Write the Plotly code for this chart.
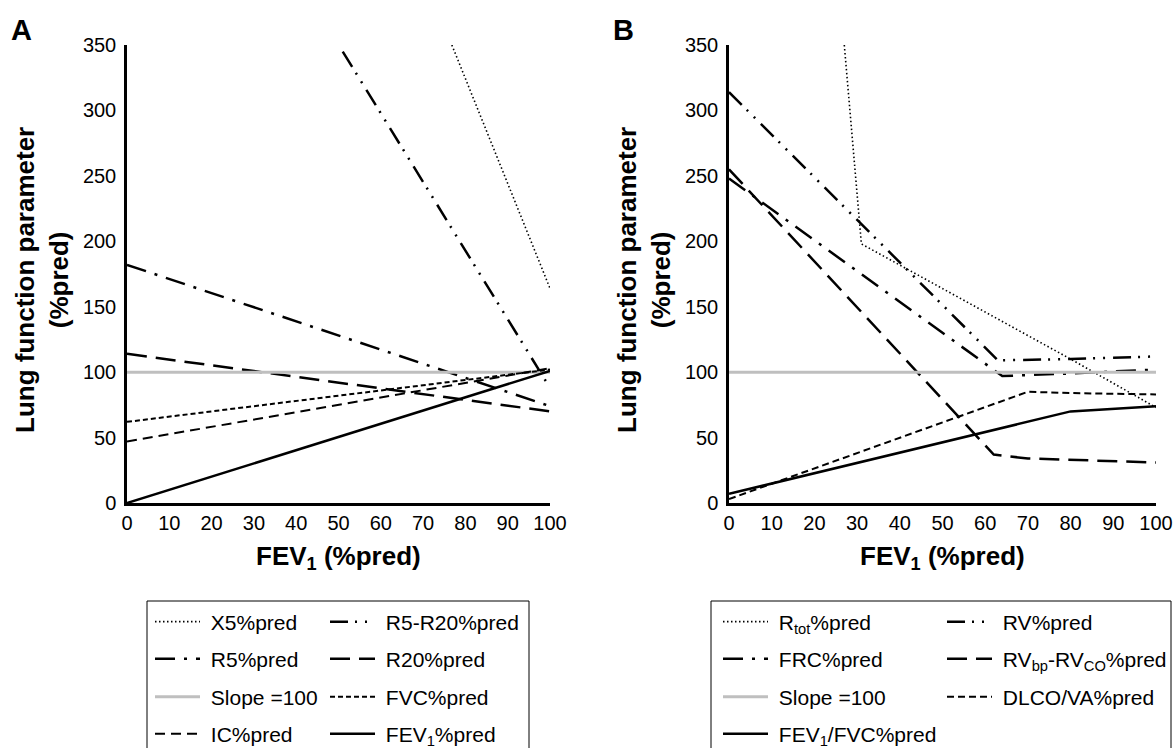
import plotly.graph_objects as go

W, H = 1175, 748
FONT = "Liberation Sans, Arial, sans-serif"

# ---------------- Panel A data (x = FEV1 %pred) ----------------
a_line_x = [0, 100]
a_x5_x = [76.8, 100]
a_x5_y = [350, 164]
a_r5r20_x = [51, 100]
a_r5r20_y = [345, 88]
a_r5_y = [182, 74]
a_r20_y = [114, 70]
a_slope_y = [100, 100]
a_fvc_y = [62, 102]
a_ic_y = [47, 103]
a_fev1_y = [0, 101]

# ---------------- Panel B data ----------------
b_rtot_x = [27, 30.5, 31, 80, 100]
b_rtot_y = [350, 219, 198, 110, 73]
b_rv_x = [0, 63, 80, 100]
b_rv_y = [314, 109, 110, 112]
b_frc_x = [0, 64, 80, 100]
b_frc_y = [248, 97, 99, 102]
b_rvbp_x = [0, 62, 70, 100]
b_rvbp_y = [255, 37, 34, 31]
b_slope_x = [0, 100]
b_slope_y = [100, 100]
b_dlco_x = [0, 70, 80, 100]
b_dlco_y = [3, 85, 84, 83]
b_fevfvc_x = [0, 80, 100]
b_fevfvc_y = [7, 70, 74]

x_ticks = list(range(0, 101, 10))
y_ticks = list(range(0, 351, 50))

# ---------------- styles ----------------
BLACK = "#000000"
GRAY = "#BFBFBF"
ST_DOT = dict(color=BLACK, width=1.6, dash="1.5px,2.5px")
ST_DASHDOTDOT = dict(color=BLACK, width=2.5, dash="18px,7px,2px,8px,2px,8px")
ST_DASHDOT = dict(color=BLACK, width=2.5, dash="20px,9px,3px,9px")
ST_LONGDASH = dict(color=BLACK, width=2.5, dash="20px,9px")
ST_SLOPE = dict(color=GRAY, width=3)
ST_FINEDASH = dict(color=BLACK, width=2, dash="5px,3px")
ST_DASH = dict(color=BLACK, width=2, dash="10px,6px")
ST_SOLID = dict(color=BLACK, width=2.5)

NB = "\u00a0"
fig = go.Figure()

def add(x, y, name, style, xa, ya, legend, lw):
    fig.add_trace(go.Scatter(x=x, y=y, mode="lines", name=NB + name, line=style,
                             xaxis=xa, yaxis=ya, legend=legend, legendwidth=lw,
                             hoverinfo="skip"))

A_C1, A_C2 = 115, 200
B_C1, B_C2 = 164, 230

# Panel A (legend rows: legend..legend4)
add(a_x5_x, a_x5_y, "X5%pred", ST_DOT, "x", "y", "legend", A_C1)
add(a_r5r20_x, a_r5r20_y, "R5-R20%pred", ST_DASHDOTDOT, "x", "y", "legend", A_C2)
add(a_line_x, a_r5_y, "R5%pred", ST_DASHDOT, "x", "y", "legend2", A_C1)
add(a_line_x, a_r20_y, "R20%pred", ST_LONGDASH, "x", "y", "legend2", A_C2)
add(a_line_x, a_slope_y, "Slope =100", ST_SLOPE, "x", "y", "legend3", A_C1)
add(a_line_x, a_fvc_y, "FVC%pred", ST_FINEDASH, "x", "y", "legend3", A_C2)
add(a_line_x, a_ic_y, "IC%pred", ST_DASH, "x", "y", "legend4", A_C1)
add(a_line_x, a_fev1_y, "FEV<sub>1</sub>%pred", ST_SOLID, "x", "y", "legend4", A_C2)

# Panel B (legend rows: legend5..legend8)
add(b_rtot_x, b_rtot_y, "R<sub>tot</sub>%pred", ST_DOT, "x2", "y2", "legend5", B_C1)
add(b_rv_x, b_rv_y, "RV%pred", ST_DASHDOTDOT, "x2", "y2", "legend5", B_C2)
add(b_frc_x, b_frc_y, "FRC%pred", ST_DASHDOT, "x2", "y2", "legend6", B_C1)
add(b_rvbp_x, b_rvbp_y, "RV<sub>bp</sub>-RV<sub>CO</sub>%pred", ST_LONGDASH, "x2", "y2", "legend6", B_C2)
add(b_slope_x, b_slope_y, "Slope =100", ST_SLOPE, "x2", "y2", "legend7", B_C1)
add(b_dlco_x, b_dlco_y, "DLCO/VA%pred", dict(color=BLACK, width=2, dash="7px,4px"), "x2", "y2", "legend7", B_C2)
add(b_fevfvc_x, b_fevfvc_y, "FEV<sub>1</sub>/FVC%pred", ST_SOLID, "x2", "y2", "legend8", B_C2)

def px_x(p):
    return p / W

def px_y(p):
    return 1 - p / H

axis_common = dict(range=[0, 100], showgrid=False, zeroline=False, showline=True,
                   linecolor=BLACK, linewidth=2.5, ticks="", tickmode="array",
                   tickfont=dict(family=FONT, size=20, color=BLACK), fixedrange=True)
yaxis_common = dict(range=[0, 350], showgrid=False, zeroline=False, showline=True,
                    linecolor=BLACK, linewidth=2.5, ticks="", tickmode="array",
                    tickvals=y_ticks, ticktext=[str(v) for v in y_ticks],
                    ticklabelstandoff=4,
                    tickfont=dict(family=FONT, size=20, color=BLACK), fixedrange=True)

def leg(x_px, y_px):
    return dict(x=px_x(x_px), y=px_y(y_px), xanchor="left", yanchor="middle",
                orientation="h", itemwidth=45,
                font=dict(family=FONT, size=21, color=BLACK), bgcolor="rgba(0,0,0,0)",
                borderwidth=0, traceorder="normal", itemclick=False, itemdoubleclick=False)

rows = [622, 659, 697, 734]
A0, B0 = 150, 718

fig.update_layout(
    width=W, height=H,
    margin=dict(l=0, r=0, t=0, b=0, autoexpand=False),
    paper_bgcolor="white", plot_bgcolor="white",
    font=dict(family=FONT, color=BLACK),
    showlegend=True,
    xaxis=dict(axis_common, domain=[px_x(127), px_x(550)], anchor="y",
               tickvals=x_ticks, ticktext=[str(v) for v in x_ticks]),
    yaxis=dict(yaxis_common, domain=[px_y(503), px_y(45)], anchor="x"),
    xaxis2=dict(axis_common, domain=[px_x(729), px_x(1156)], anchor="y2",
                tickvals=x_ticks, ticktext=[str(v) for v in x_ticks]),
    yaxis2=dict(yaxis_common, domain=[px_y(503), px_y(45)], anchor="x2"),
    legend=leg(A0, rows[0]),
    legend2=leg(A0, rows[1]),
    legend3=leg(A0, rows[2]),
    legend4=leg(A0, rows[3]),
    legend5=leg(B0, rows[0]),
    legend6=leg(B0, rows[1]),
    legend7=leg(B0, rows[2]),
    legend8=leg(B0, rows[3]),
)

# legend frames (extend beyond bottom edge as in the reference)
for x0, x1 in [(147, 529), (711, 1171)]:
    fig.add_shape(type="rect", xref="paper", yref="paper",
                  x0=px_x(x0), x1=px_x(x1), y0=px_y(770), y1=px_y(601),
                  line=dict(color=BLACK, width=1), fillcolor="rgba(0,0,0,0)", layer="above")

ann_font_title = dict(family=FONT, size=26, color=BLACK)
for cx, label_x, letter, lx in [(42, 338.5, "A", 21.5), (644, 942.5, "B", 623.5)]:
    fig.add_annotation(text="<b>Lung function parameter<br>(%pred)</b>", textangle=-90,
                       xref="paper", yref="paper", x=px_x(cx), y=px_y(280),
                       xanchor="center", yanchor="middle", showarrow=False,
                       font=ann_font_title, align="center")
    fig.add_annotation(text="<b>FEV<sub>1</sub> (%pred)</b>",
                       xref="paper", yref="paper", x=px_x(label_x), y=px_y(557),
                       xanchor="center", yanchor="middle", showarrow=False,
                       font=ann_font_title)
    fig.add_annotation(text="<b>%s</b>" % letter,
                       xref="paper", yref="paper", x=px_x(lx), y=px_y(30),
                       xanchor="center", yanchor="middle", showarrow=False,
                       font=dict(family=FONT, size=29, color=BLACK))

fig.write_html("out.html", config={"displayModeBar": False},
               post_script="document.body.style.margin='0px';document.body.style.overflow='hidden';")
